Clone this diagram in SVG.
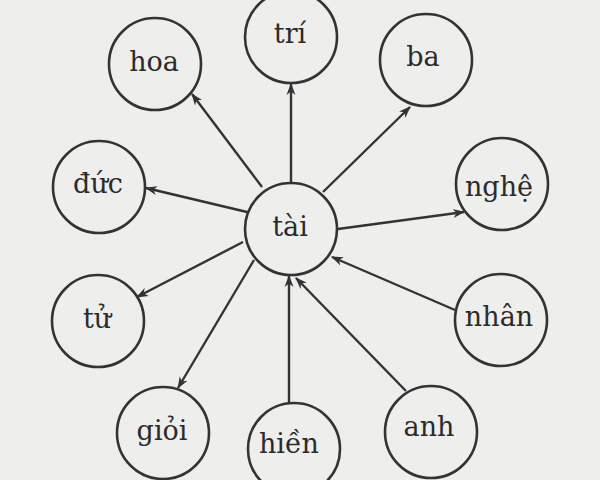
<svg xmlns="http://www.w3.org/2000/svg" width="600" height="480" viewBox="0 0 600 480">
<style>
.node circle{fill:none;stroke:#333;stroke-width:2.6}
.node text{font-family:"DejaVu Serif","Liberation Serif",serif;font-size:27px;fill:#2b2b2b;text-anchor:middle}
.edges line{stroke:#333;stroke-width:2.4;marker-end:url(#arr)}
</style>
<defs>
<marker id="arr" viewBox="0 0 12 10" refX="11" refY="5" markerWidth="12" markerHeight="10" markerUnits="userSpaceOnUse" orient="auto">
<path d="M0,0.5 L12,5 L0,9.5 L3.5,5 z" fill="#333"/>
</marker>
</defs>
<rect width="600" height="480" fill="#eeeeec"/>
<g class="edges" id="connectors">
<line x1="291" y1="182" x2="291" y2="84"/>
<line x1="262" y1="187" x2="192" y2="94"/>
<line x1="323" y1="192" x2="410" y2="107"/>
<line x1="247" y1="212" x2="146" y2="188"/>
<line x1="338" y1="229" x2="464" y2="212"/>
<line x1="243" y1="242" x2="137" y2="297"/>
<line x1="254" y1="260" x2="178" y2="388"/>
<line x1="455" y1="310" x2="332" y2="257"/>
<line x1="406" y1="391" x2="296" y2="278"/>
<line x1="289" y1="403" x2="289" y2="276"/>
</g>
<g class="node" id="tai"><circle cx="291" cy="229" r="46"/><text x="290" y="236">tài</text></g>
<g class="node" id="tri"><circle cx="291" cy="37" r="46"/><text x="290" y="43">trí</text></g>
<g class="node" id="hoa"><circle cx="155" cy="64" r="46"/><text x="154" y="71">hoa</text></g>
<g class="node" id="ba"><circle cx="426" cy="60" r="46"/><text x="423" y="66">ba</text></g>
<g class="node" id="duc"><circle cx="99" cy="187" r="46"/><text x="98" y="193">đức</text></g>
<g class="node" id="nghe"><circle cx="502" cy="184" r="46"/><text x="499" y="196">nghệ</text></g>
<g class="node" id="tu"><circle cx="98" cy="321" r="46"/><text x="97" y="328">tử</text></g>
<g class="node" id="nhan"><circle cx="501" cy="320" r="46"/><text x="499" y="326">nhân</text></g>
<g class="node" id="gioi"><circle cx="163" cy="433" r="46"/><text x="162" y="440">giỏi</text></g>
<g class="node" id="hien"><circle cx="294" cy="449" r="46"/><text x="289" y="453">hiền</text></g>
<g class="node" id="anh"><circle cx="431" cy="432" r="46"/><text x="429" y="436">anh</text></g>
</svg>
